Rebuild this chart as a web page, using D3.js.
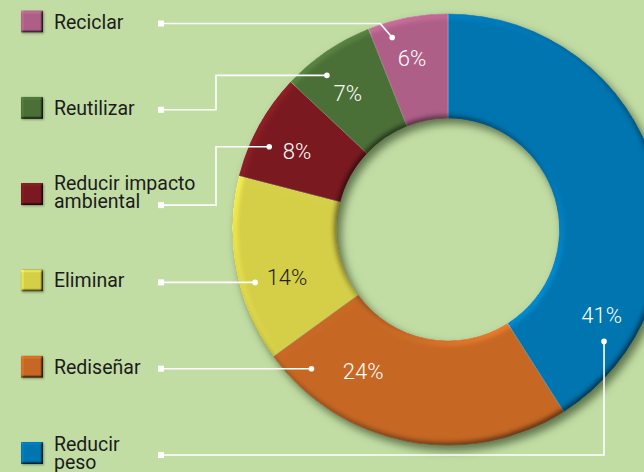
<!DOCTYPE html>
<html><head><meta charset="utf-8">
<script src="https://cdn.jsdelivr.net/npm/d3@7/dist/d3.min.js"></script>
<style>
html,body{margin:0;padding:0;background:#c2dda4;overflow:hidden}
svg{display:block}
text{font-family:Roboto,"DejaVu Sans Condensed",sans-serif}
</style></head>
<body>
<svg id="chart" width="644" height="472"></svg>
<script>
// ---- data (clockwise from 12 o'clock) ----
const categories = ["Reducir peso","Rediseñar","Eliminar","Reducir impacto ambiental","Reutilizar","Reciclar"];
const values = [41, 24, 14, 8, 7, 6];
const valueLabels = ["41%","24%","14%","8%","7%","6%"];
const legendLines = [["Reducir","peso"],["Rediseñar"],["Eliminar"],["Reducir impacto","ambiental"],["Reutilizar"],["Reciclar"]];
const colors = ["#0075b0","#c66824","#d5cf48","#7a1a20","#4b7037","#ae5f87"];

// ---- layout ----
const W = 644, H = 472;
const cx = 448, cy = 229.5, R = 216, r0 = 111;
const svg = d3.select("#chart");

const defs = svg.append("defs");
function bevel(id, blur, scale, elev, dx, dy, sblur, sop){
  const f = defs.append("filter").attr("id", id)
    .attr("x","-20%").attr("y","-20%").attr("width","140%").attr("height","140%")
    .attr("color-interpolation-filters","sRGB");
  f.append("feGaussianBlur").attr("in","SourceAlpha").attr("stdDeviation",blur).attr("result","b");
  f.append("feDiffuseLighting").attr("in","b").attr("surfaceScale",scale).attr("diffuseConstant",1)
    .attr("lighting-color","#fff").attr("result","d")
    .append("feDistantLight").attr("azimuth",225).attr("elevation",elev);
  f.append("feComposite").attr("in","SourceGraphic").attr("in2","d").attr("operator","arithmetic")
    .attr("k1",1/Math.sin(elev*Math.PI/180)).attr("k2",0).attr("k3",0).attr("k4",0).attr("result","lit");
  f.append("feComposite").attr("in","lit").attr("in2","SourceAlpha").attr("operator","in").attr("result","litc");
  f.append("feGaussianBlur").attr("in","SourceAlpha").attr("stdDeviation",sblur).attr("result","sb");
  f.append("feOffset").attr("in","sb").attr("dx",dx).attr("dy",dy).attr("result","so");
  f.append("feFlood").attr("flood-color","#1d2e10").attr("flood-opacity",sop).attr("result","fl");
  f.append("feComposite").attr("in","fl").attr("in2","so").attr("operator","in").attr("result","sh");
  const m = f.append("feMerge");
  m.append("feMergeNode").attr("in","sh");
  m.append("feMergeNode").attr("in","litc");
}
bevel("ringBevel", 3, 2.5, 58, 4, 5, 4, 0.6);
bevel("boxBevel", 1.2, 2, 55, 1, 1, 0.8, 0.4);

const pie = d3.pie().sort(null).value(d => d)(values);
const arc = d3.arc().innerRadius(r0).outerRadius(R);
const ring = svg.append("g").attr("transform", `translate(${cx},${cy})`).attr("filter","url(#ringBevel)");
ring.selectAll("path").data(pie).join("path")
  .attr("d", arc).attr("fill", (d,i) => colors[i])
  .attr("stroke","rgba(255,255,255,0.3)").attr("stroke-width",0.8);

// angle helper: fraction of the full turn -> point
const ang = d3.scaleLinear().domain([0,1]).range([0, 2*Math.PI]);
const polar = (f, rad) => [cx + rad*Math.sin(ang(f)), cy - rad*Math.cos(ang(f))];

// value labels (fraction of turn, radius)
const labelAt = [[0.331,176],[0.586,165],[0.704,168],[0.826,170],[0.899,169],[0.967,175]];
svg.append("g").selectAll("text").data(valueLabels).join("text")
  .attr("x",(d,i)=>polar(...labelAt[i])[0])
  .attr("y",(d,i)=>polar(...labelAt[i])[1])
  .attr("dy","0.36em").attr("text-anchor","middle")
  .attr("font-size",22).attr("font-weight",300).attr("fill",(d,i)=> i===2 ? "#222" : "#fff")
  .text(d=>d);

// legend rows (top to bottom = reverse of data)
const order = d3.range(categories.length).reverse();
const rowY = d3.scalePoint().domain(order).range([21.5, 453]);
const legend = svg.append("g");
order.forEach(i => {
  const y = rowY(i);
  legend.append("rect").attr("x",21).attr("y",y-11).attr("width",22).attr("height",22)
    .attr("fill",colors[i]).attr("filter","url(#boxBevel)");
  const lines = legendLines[i];
  const firstBase = lines.length === 1 ? y + 7 : (i === 0 ? y - 2 : y - 4);
  const t = legend.append("text").attr("x",54).attr("y",firstBase).attr("font-size",19.5).attr("fill","#1c1c1c");
  lines.forEach((ln,k)=> t.append("tspan").attr("x",54).attr("y",firstBase + k*18).text(ln));
});

// leader lines
const dotR = [192, 195, 200, 197, 196, 200];
const leaderAt = [0.349, 0.622, 0.7075, 0.819, 0.894, 0.955];
const leaders = svg.append("g");
const sqX = 161, elbowX = 216;
order.forEach(i => {
  const y = rowY(i);
  const ly = (legendLines[i].length === 2 && i !== 0) ? y + 11 : y + 2;
  let dot, pts;
  if (i === 1 || i === 2) {
    const dyy = ly - cy;
    dot = [cx - Math.sqrt(dotR[i]*dotR[i] - dyy*dyy), ly];
    pts = [[sqX, ly], dot];
  } else {
    dot = polar(leaderAt[i], dotR[i]);
    if (i === 0) pts = [[sqX, ly],[dot[0], ly], dot];
    else if (i === 5) pts = [[sqX, ly],[dot[0]-12, ly], dot];
    else pts = [[sqX, ly],[elbowX, ly],[elbowX, dot[1]], dot];
  }
  leaders.append("path").attr("d", d3.line()(pts)).attr("fill","none")
    .attr("stroke","#fff").attr("stroke-width",1.6);
  leaders.append("rect").attr("x",sqX-3).attr("y",ly-3).attr("width",6).attr("height",6).attr("fill","#fff");
  leaders.append("circle").attr("cx",dot[0]).attr("cy",dot[1]).attr("r",2.8).attr("fill","#fff");
});
</script>
</body></html>
